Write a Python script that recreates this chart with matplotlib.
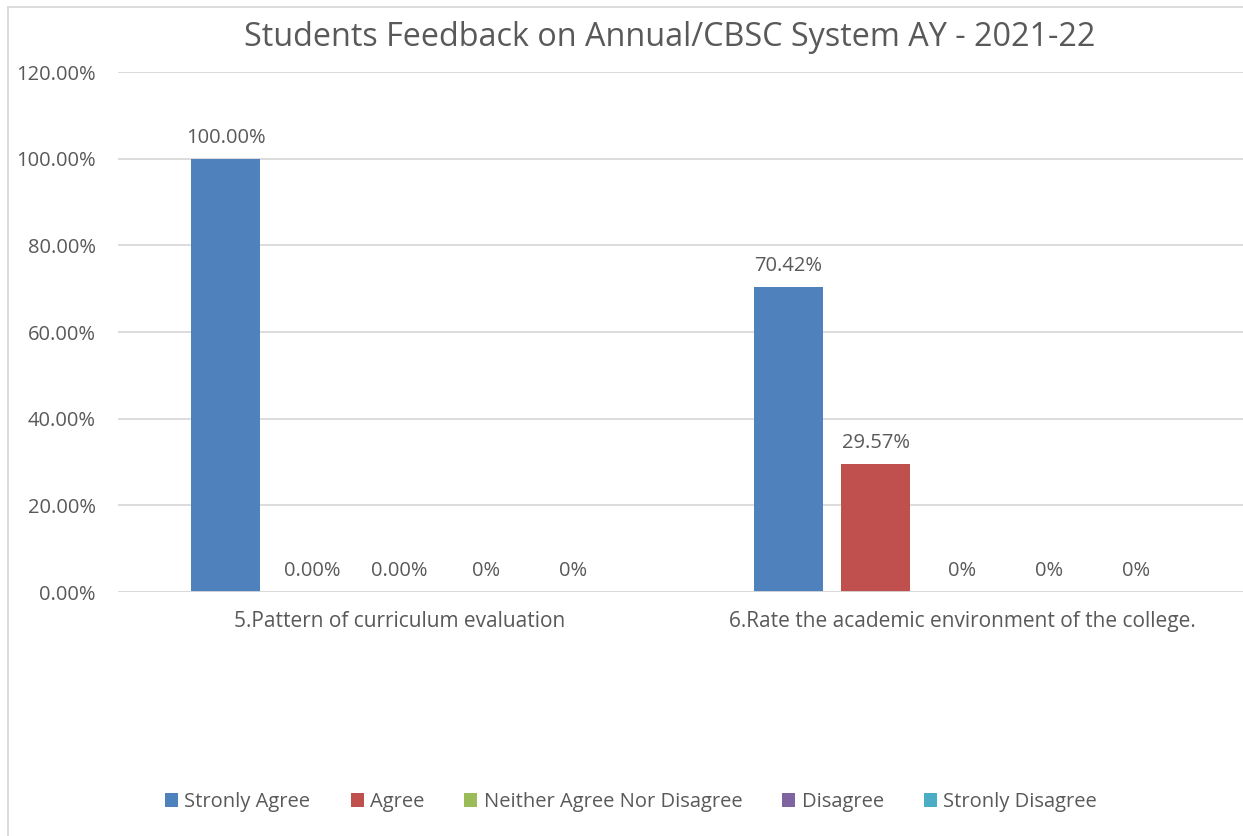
import matplotlib.pyplot as plt
from matplotlib.lines import Line2D

plt.rcParams['font.family'] = ['Open Sans', 'DejaVu Sans']

# データ
categories = ['5.Pattern of curriculum evaluation',
              '6.Rate the academic environment of the college.']
series_names = ['Stronly Agree', 'Agree', 'Neither Agree Nor Disagree',
                'Disagree', 'Stronly Disagree']
values = [
    [100.00, 70.42],
    [0.00, 29.57],
    [0.00, 0.0],
    [0.0, 0.0],
    [0.0, 0.0],
]
value_labels = [
    ['100.00%', '70.42%'],
    ['0.00%', '29.57%'],
    ['0.00%', '0%'],
    ['0%', '0%'],
    ['0%', '0%'],
]
colors = ['#4F81BD', '#C0504D', '#9BBB59', '#8064A2', '#4BACC6']
yticks = [0, 20, 40, 60, 80, 100, 120]

text_col = '#595959'

fig = plt.figure(figsize=(12.43, 8.36), dpi=100)
ax = fig.add_axes([118 / 1243, 1 - 592 / 836, 1126 / 1243, (592 - 72) / 836])

width = 0.121
pitch = 0.1545
for i, (name, vals) in enumerate(zip(series_names, values)):
    xs = [c + (i - 2) * pitch for c in range(len(categories))]
    ax.bar(xs, vals, width=width, color=colors[i], label=name, zorder=3)
    for x, v, lab in zip(xs, vals, value_labels[i]):
        ax.annotate(lab, (x, v), xytext=(0, 8), textcoords='offset points',
                    ha='center', va='bottom', fontsize=14.5, color=text_col)

ax.set_xlim(-0.5, 1.5)
ax.set_ylim(0, 120)
ax.set_yticks(yticks)
ax.set_yticklabels([f'{t:.2f}%' for t in yticks])
ax.set_xticks(range(len(categories)))
ax.set_xticklabels(categories)
ax.tick_params(axis='both', length=0, labelsize=14.5, labelcolor=text_col)
ax.tick_params(axis='x', labelsize=15, pad=14)
ax.tick_params(axis='y', pad=16)
ax.grid(axis='y', color='#D9D9D9', linewidth=1.3, zorder=0)
for s in ax.spines.values():
    s.set_visible(False)
ax.axhline(0, color='#D9D9D9', linewidth=1.3, zorder=4)

fig.text(670 / 1243, 1 - 37 / 836, 'Students Feedback on Annual/CBSC System AY - 2021-22',
         ha='center', va='center', fontsize=23.3, color=text_col)

leg = fig.legend(loc='center', bbox_to_anchor=(631 / 1243, 1 - 802 / 836), ncol=5,
                 frameon=False, fontsize=14.5, handlelength=0.65, handleheight=0.65,
                 handletextpad=0.3, columnspacing=2.0, labelcolor=text_col)

# チャート枠線（上と左のみ見える）
fig.add_artist(Line2D([8 / 1243, 8 / 1243], [0, 1 - 7 / 836], color='#D9D9D9', linewidth=1.3))
fig.add_artist(Line2D([8 / 1243, 1], [1 - 7 / 836, 1 - 7 / 836], color='#D9D9D9', linewidth=1.3))

fig.savefig('out.png', dpi=100)
